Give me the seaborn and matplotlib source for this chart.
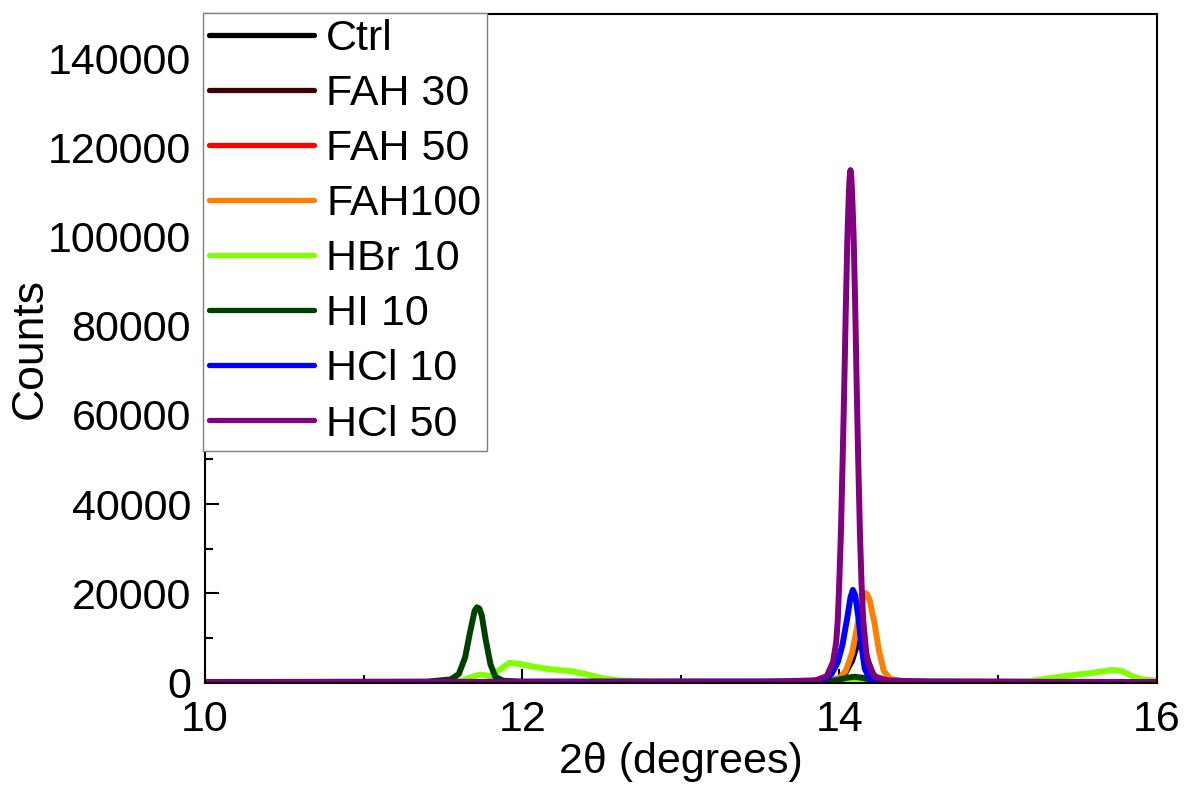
import matplotlib
matplotlib.use("Agg")
import matplotlib.pyplot as plt
from matplotlib.ticker import MultipleLocator
import numpy as np
import pandas as pd
import seaborn as sns

# XRD scans, values (2theta in degrees, counts)
ctrl_x = [10.0, 13.8, 13.95, 14.0, 14.04, 14.08, 14.11, 14.13, 14.15, 14.18, 14.21, 14.25, 14.35, 16.0]
ctrl_y = [0, 0, 300, 900, 2200, 4800, 8200, 9700, 8500, 4800, 1800, 500, 100, 0]

fah30_x = [10.0, 13.9, 14.0, 14.08, 14.13, 14.18, 14.26, 14.35, 16.0]
fah30_y = [0, 0, 200, 600, 800, 600, 200, 0, 0]

fah50_x = [10.0, 13.9, 14.0, 14.08, 14.14, 14.2, 14.27, 14.35, 16.0]
fah50_y = [0, 0, 250, 700, 1000, 700, 250, 0, 0]

fah100_x = [10.0, 13.8, 13.95, 14.0, 14.04, 14.08, 14.11, 14.14, 14.155, 14.165, 14.175, 14.19,
            14.22, 14.25, 14.28, 14.32, 14.4, 16.0]
fah100_y = [0, 0, 300, 900, 2500, 6500, 12000, 17500, 19500, 20000, 19700, 18500,
            13500, 7000, 2500, 700, 150, 0]

hbr_x = [10.0, 11.55, 11.63, 11.7, 11.74, 11.8, 11.86, 11.92, 11.98, 12.05, 12.17, 12.3, 12.4, 12.5,
         12.6, 12.8, 15.0, 15.2, 15.41, 15.58, 15.72, 15.78, 15.85, 15.91, 16.0]
hbr_y = [0, 0, 400, 1400, 1700, 1300, 2800, 4300, 4100, 3600, 2900, 2500, 1800, 900,
         400, 100, 0, 200, 1300, 2000, 2700, 2500, 1300, 600, 300]

hi_x = [10.0, 11.4, 11.55, 11.6, 11.64, 11.67, 11.7, 11.715, 11.73, 11.745, 11.77, 11.8, 11.83, 11.88, 12.0,
        13.9, 13.98, 14.05, 14.1, 14.15, 14.22, 14.3, 16.0]
hi_y = [0, 100, 600, 1800, 5500, 11000, 16000, 16800, 16500, 15000, 9500, 4000, 1200, 300, 100,
        100, 400, 1000, 1200, 900, 300, 50, 0]

hcl10_x = [10.0, 13.8, 13.9, 13.95, 13.99, 14.02, 14.05, 14.07, 14.085, 14.1, 14.12, 14.14, 14.16, 14.19, 14.25, 16.0]
hcl10_y = [0, 100, 600, 1800, 4500, 8500, 14500, 19000, 20700, 19500, 14500, 8000, 3000, 800, 100, 0]

hcl50_x = [10.0, 13.5, 13.85, 13.92, 13.96, 13.98, 13.99, 14.0, 14.01, 14.02, 14.03, 14.04, 14.05,
           14.06, 14.065, 14.07, 14.075, 14.08, 14.09, 14.1, 14.11, 14.12, 14.13, 14.14,
           14.15, 14.17, 14.18, 14.22, 14.3, 14.6, 16.0]
hcl50_y = [0, 0, 400, 1300, 4500, 9000, 14000, 23000, 34000, 49000, 65000, 83000, 99000,
           110000, 113500, 115000, 113500, 110000, 100000, 84000, 65000, 48000, 33000, 22000,
           14000, 6500, 4500, 1300, 400, 0, 0]

labels = ["Ctrl", "FAH 30", "FAH 50", "FAH100", "HBr 10", "HI 10", "HCl 10", "HCl 50"]
xs = [ctrl_x, fah30_x, fah50_x, fah100_x, hbr_x, hi_x, hcl10_x, hcl50_x]
ys = [ctrl_y, fah30_y, fah50_y, fah100_y, hbr_y, hi_y, hcl10_y, hcl50_y]
colors = ["#000000", "#400000", "#ff0000", "#ff8000", "#80ff00", "#004000", "#0000ff", "#800080"]

sns.set_style("ticks")
plt.rcParams["font.family"] = ["Liberation Sans", "DejaVu Sans"]
plt.rcParams["text.color"] = "black"
plt.rcParams["axes.labelcolor"] = "black"
plt.rcParams["xtick.color"] = "black"
plt.rcParams["ytick.color"] = "black"

fig = plt.figure(figsize=(11.85, 7.96), dpi=100)
ax = fig.add_subplot(1, 1, 1)
fig.subplots_adjust(left=0.173, right=0.976, bottom=0.142, top=0.982)

lw = 4.3
for name, x, y, c in zip(labels, xs, ys, colors):
    df = pd.DataFrame({"x": x, "y": y})
    sns.lineplot(data=df, x="x", y="y", color=c, linewidth=lw, label=name,
                 ax=ax, estimator=None, sort=True)

ax.set_xlim(10, 16)
ax.set_ylim(-200, 150000)
ax.set_xticks([10, 12, 14, 16])
ax.xaxis.set_minor_locator(MultipleLocator(1))
ax.set_yticks(np.arange(0, 140001, 20000))
ax.yaxis.set_minor_locator(MultipleLocator(10000))
ax.tick_params(which="both", direction="in", width=1.5, labelsize=31)
ax.tick_params(which="major", length=10)
ax.tick_params(which="minor", length=6)
ax.tick_params(axis="y", pad=10)
ax.tick_params(axis="x", pad=12)

for s in ax.spines.values():
    s.set_visible(True)
    s.set_linewidth(1.5)
    s.set_color("black")

ax.set_xlabel("2\u03b8 (degrees)", fontsize=31, labelpad=2)
ax.set_ylabel("Counts", fontsize=32, labelpad=-2)

leg = ax.legend(loc="upper left", bbox_to_anchor=(-0.002, 1.002), fontsize=31,
                frameon=True, fancybox=False, edgecolor="#808080", framealpha=1,
                borderpad=0.14, labelspacing=0.35, handlelength=2.44,
                handletextpad=0.28, borderaxespad=0)
leg.get_frame().set_linewidth(1.0)
for h in leg.get_lines():
    h.set_linewidth(3.8)

fig.savefig("out.png", dpi=100)
